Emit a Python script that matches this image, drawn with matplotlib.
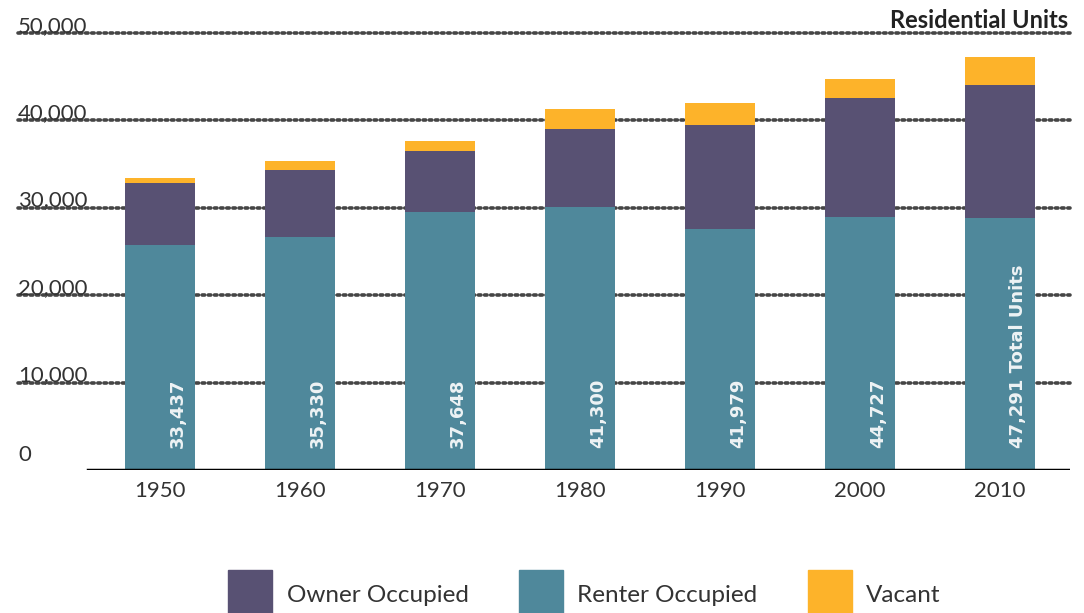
import matplotlib
matplotlib.use('Agg')
import matplotlib.pyplot as plt
from matplotlib.patches import Rectangle

years = ['1950', '1960', '1970', '1980', '1990', '2000', '2010']
renter = [25700, 26670, 29540, 30110, 27600, 28980, 28860]
owner = [7140, 7700, 7010, 8860, 11830, 13630, 15230]
vacant = [597, 960, 1098, 2330, 2549, 2117, 3201]
totals = ['33,437', '35,330', '37,648', '41,300', '41,979', '44,727', '47,291 Total Units']
yticks = [0, 10000, 20000, 30000, 40000, 50000]
ytick_labels = ['0', '10,000', '20,000', '30,000', '40,000', '50,000']

c_owner = '#585173'
c_renter = '#4f889b'
c_vacant = '#fdb32a'
c_text = '#333333'

plt.rcParams['font.family'] = ['Lato', 'DejaVu Sans']

fig = plt.figure(figsize=(10.84, 6.13), dpi=100)
ax = fig.add_axes([18 / 1084, (613 - 470) / 613, 1052 / 1084, 437 / 613])

x = list(range(len(years)))
w = 0.5
bottom2 = [r + o for r, o in zip(renter, owner)]
ax.bar(x, renter, w, color=c_renter, zorder=3)
ax.bar(x, owner, w, bottom=renter, color=c_owner, zorder=3)
ax.bar(x, vacant, w, bottom=bottom2, color=c_vacant, zorder=3)

# dotted gridlines
for t in yticks[1:]:
    ax.axhline(t, color='#454545', lw=2.6, ls=(0, (0.7, 1.0)), dash_capstyle='round',
               zorder=1, clip_on=False)
ax.axhline(0, xmin=70 / 1052, xmax=1, color='black', lw=2.5, zorder=4)

# y labels sitting above the lines
for t, lab in zip(yticks, ytick_labels):
    dy = 600 if t == 0 else -300
    ax.text(-1.014, t + dy, lab, ha='left', va='bottom', fontsize=16, color=c_text)

# totals written inside the bars
for xi, lab in zip(x, totals):
    ax.text(xi + 0.13, 2500, lab, rotation=90, rotation_mode='anchor', ha='left', va='center',
            fontsize=13, family='DejaVu Sans', fontweight='bold', color='#eef3f5', zorder=5)

ax.set_xlim(-1.014, 6.5)
ax.set_ylim(0, 50000)
ax.set_xticks(x)
ax.set_xticklabels(years, fontsize=16, color=c_text)
ax.tick_params(axis='x', length=0, pad=8)
ax.set_yticks([])
for s in ax.spines.values():
    s.set_visible(False)

fig.text(1068 / 1084, (613 - 28) / 613, 'Residential Units', ha='right', va='baseline',
         fontsize=17, fontweight='bold', color='#222222')

# legend
legend_items = [('Owner Occupied', c_owner, 228, 287),
                ('Renter Occupied', c_renter, 519, 577),
                ('Vacant', c_vacant, 808, 866)]
for name, col, x0, tx in legend_items:
    fig.add_artist(Rectangle((x0 / 1084, 0), 44 / 1084, 43 / 613, transform=fig.transFigure,
                             color=col))
    fig.text(tx / 1084, (613 - 595) / 613, name, ha='left', va='center', fontsize=17.5, color=c_text)

fig.savefig('out.png', dpi=100)
